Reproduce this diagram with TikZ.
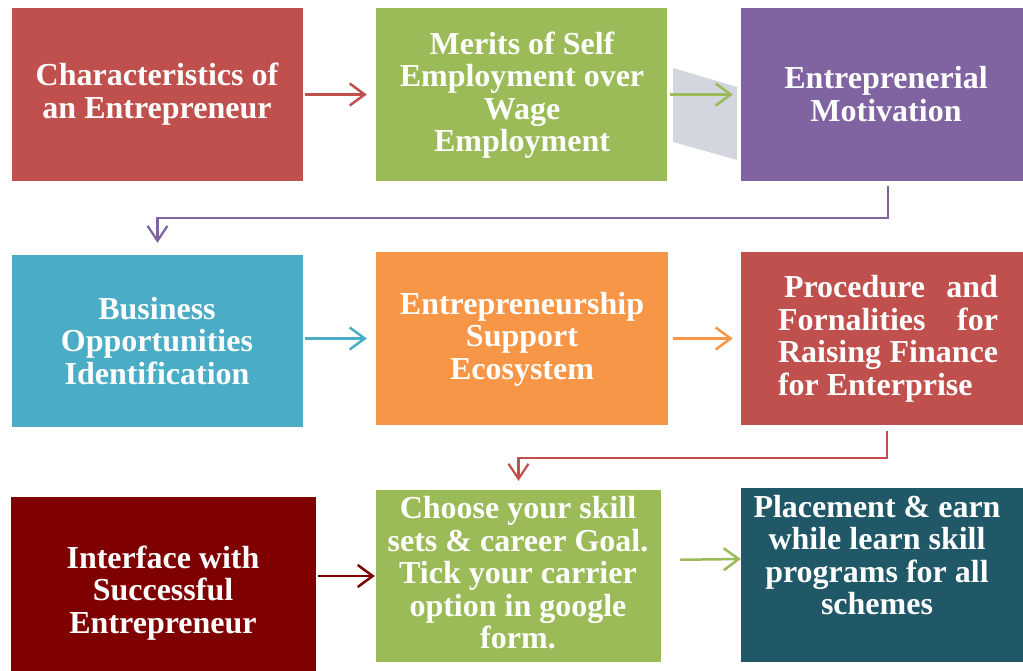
\documentclass[tikz,border=0pt]{standalone}
\usepackage{fontspec}
\setmainfont{Liberation Serif}
\usetikzlibrary{arrows.meta}

\definecolor{boxred}{HTML}{C0504D}
\definecolor{boxgreen}{HTML}{9BBB59}
\definecolor{boxpurple}{HTML}{8064A2}
\definecolor{boxblue}{HTML}{4BACC6}
\definecolor{boxorange}{HTML}{F79646}
\definecolor{boxmaroon}{HTML}{7F0000}
\definecolor{boxteal}{HTML}{215868}
\definecolor{shadegray}{HTML}{D3D6DF}

\begin{document}
\begin{tikzpicture}[x=1pt,y=-1pt]
		\tikzstyle{every node}+=[inner sep=0pt]
		\tikzstyle{box}=[rectangle, minimum width=291pt, minimum height=173pt]
		\tikzstyle{txt}=[text=white, font=\bfseries\fontsize{32}{32.5}\selectfont, align=center]
		\tikzstyle{arr}=[line width=2.5pt, -{Straight Barb[length=15pt,width=22pt]}]
		\tikzstyle{elbow}=[line width=2.2pt, -{Straight Barb[length=15pt,width=20pt]}]
		\useasboundingbox (0,0) rectangle (1023,671);
		\node [box, fill=boxred] (b1) at (157,94.5) {};
		\node [txt] (t1) at (157,94) {Characteristics of\\an Entrepreneur};
		\node [box, fill=boxgreen] (b2) at (521.5,94.5) {};
		\node [txt] (t2) at (522,95) {Merits of Self\\Employment over\\Wage\\Employment};
		\node [box, fill=boxpurple, minimum width=282pt] (b3) at (882,94.5) {};
		\node [txt] (t3) at (886,94) {Entreprenerial\\Motivation};
		\node [box, fill=boxblue, minimum height=172pt] (b4) at (157.5,341) {};
		\node [txt] (t4) at (157,341) {Business\\Opportunities\\Identification};
		\node [box, fill=boxorange, minimum width=292pt] (b5) at (522,338.5) {};
		\node [txt] (t5) at (522,339) {Entrepreneurship\\Support\\Ecosystem};
		\node [box, fill=boxred, minimum width=282pt] (b6) at (882,338.5) {};
		\node [txt, align=justify, text width=220pt] (t6) at (888,339) {\hspace*{6pt}Procedure and\linebreak Fornalities for\linebreak Raising Finance\linebreak for Enterprise};
		\node [box, fill=boxmaroon, minimum width=305pt, minimum height=174pt] (b7) at (163.5,584) {};
		\node [txt] (t7) at (163,593) {Interface with\\Successful\\Entrepreneur};
		\node [box, fill=boxgreen, minimum width=285pt, minimum height=172pt] (b8) at (518.5,576) {};
		\node [txt] (t8) at (518,573) {Choose your skill\\sets \& career Goal.\\Tick your carrier\\option in google\\form.};
		\node [box, fill=boxteal, minimum width=282pt, minimum height=174pt] (b9) at (882,575) {};
		\node [txt] (t9) at (877,555) {Placement \& earn\\while learn skill\\programs for all\\schemes};
		\fill [shadegray] (673,68) -- (737,87) -- (737,160) -- (673,142) -- cycle;
		\draw [arr, boxred, shorten <=2pt, shorten >=9pt] (b1.east) -- (b2.west);
		\draw [arr, boxgreen, shorten <=3pt, shorten >=8pt] (b2.east) -- (b3.west);
		\coordinate (k1) at (888,218);
		\draw [elbow, boxpurple, shorten <=5pt, shorten >=12pt] (b3.south -| k1) -- (k1) -| (b4.north);
		\draw [arr, boxblue, shorten <=2pt, shorten >=9pt] (b4.east |- b5.west) -- (b5.west);
		\draw [arr, boxorange, shorten <=5pt, shorten >=8pt] (b5.east) -- (b6.west);
		\coordinate (k2) at (887,458);
		\draw [elbow, boxred, shorten <=6pt, shorten >=9pt] (b6.south -| k2) -- (k2) -| (b8.north);
		\draw [arr, boxmaroon, shorten <=2pt, shorten >=1pt] (b7.east |- b8.west) -- (b8.west);
		\draw [arr, boxgreen, shorten <=19pt, shorten >=0pt] ([yshift=16pt]b8.east) -- ([yshift=16pt]b9.west);
\end{tikzpicture}
\end{document}
